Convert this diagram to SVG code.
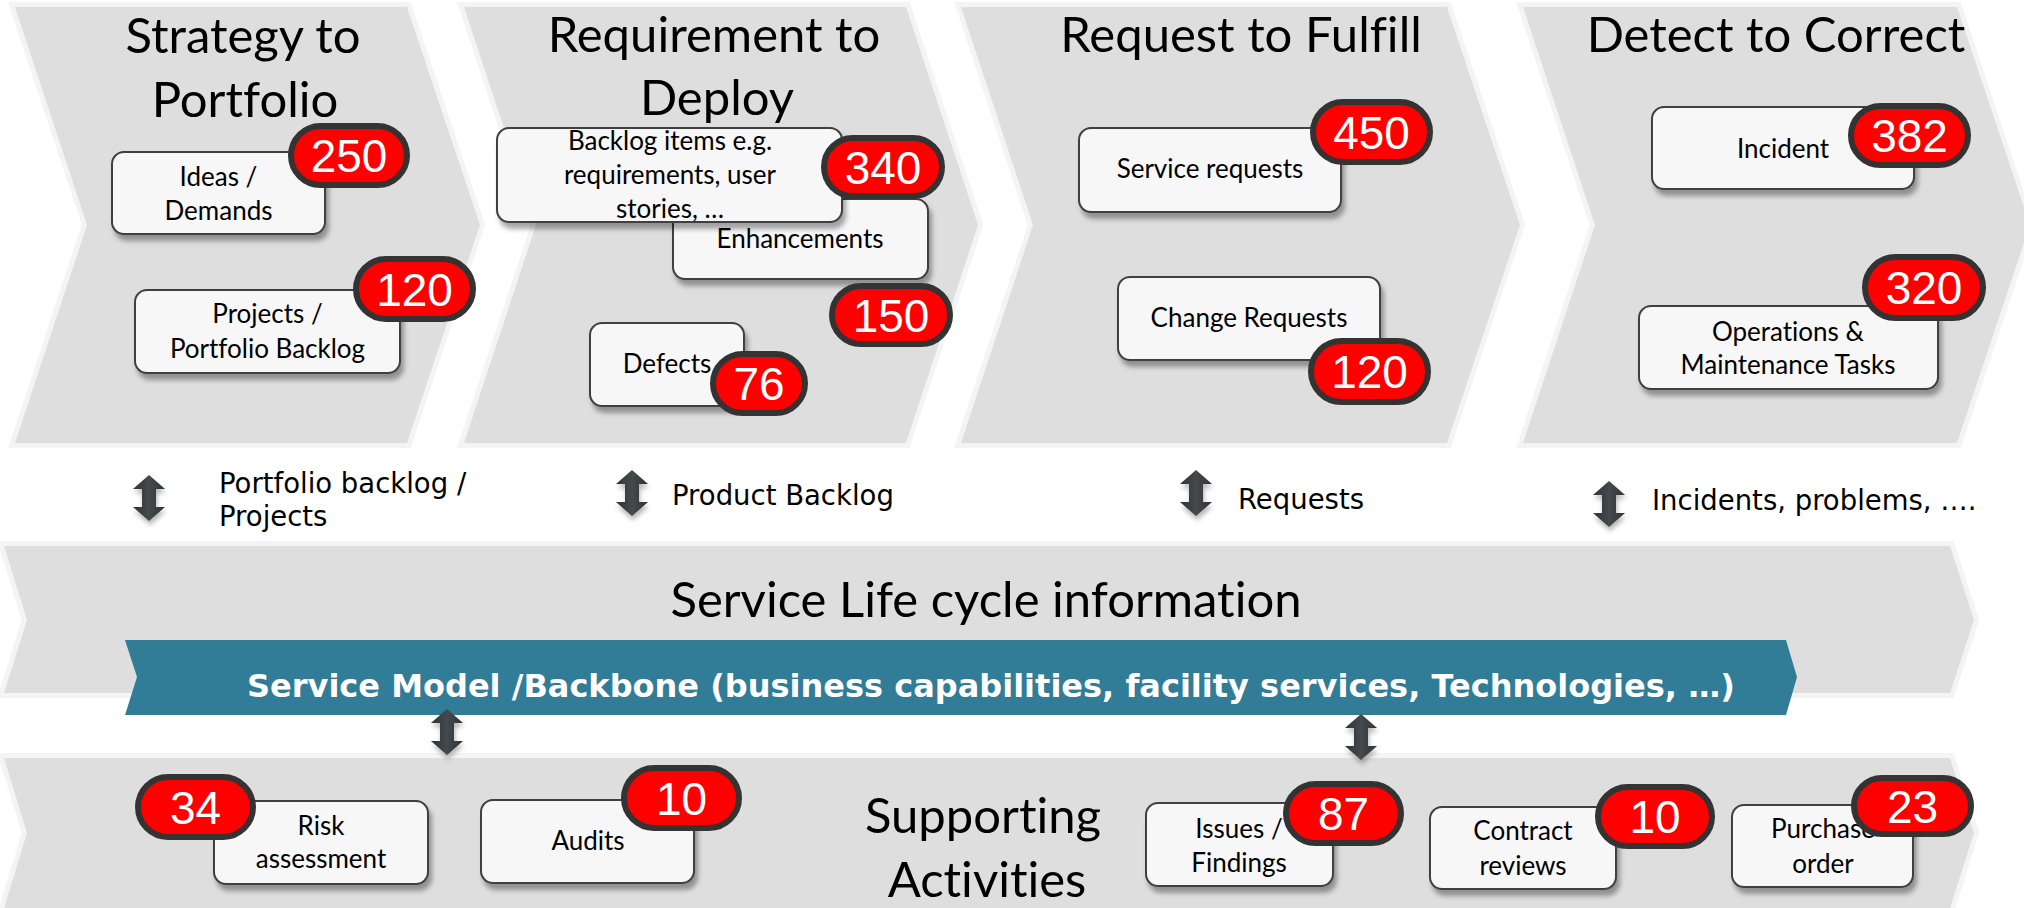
<svg xmlns="http://www.w3.org/2000/svg" width="2024" height="908" viewBox="0 0 2024 908">
<defs>
<style>
.chev{fill:#dedede;stroke:#f4f4f4;stroke-width:10;paint-order:stroke;stroke-linejoin:miter}
.box{fill:#f7f7f7;stroke:#3f3f3f;stroke-width:2;filter:url(#sh)}
.badge{fill:#ff0000;stroke:#333333;stroke-width:6}
.num{font-family:"Liberation Sans",Arial,sans-serif;font-size:46px;fill:#ffffff;text-anchor:middle}
.lbl{font-family:Lato,"Liberation Sans",sans-serif;font-size:26px;fill:#000000;text-anchor:middle;font-variant-ligatures:none;font-feature-settings:"liga" 0}
.title{font-family:Lato,"Liberation Sans",sans-serif;font-size:49px;fill:#000000;text-anchor:middle;font-variant-ligatures:none;font-feature-settings:"liga" 0}
.mid{font-family:"DejaVu Sans",sans-serif;font-size:27.5px;fill:#000000}
.banner{font-family:"DejaVu Sans",sans-serif;font-weight:bold;font-size:32px;fill:#ffffff}
.arr{fill:url(#ag);filter:url(#ash)}
</style>
<filter id="sh" x="-10%" y="-10%" width="130%" height="140%">
<feDropShadow dx="3" dy="6" stdDeviation="2.5" flood-color="#000" flood-opacity="0.35"/>
</filter>
<filter id="ash" x="-50%" y="-30%" width="200%" height="170%">
<feDropShadow dx="1" dy="4" stdDeviation="2.5" flood-color="#000" flood-opacity="0.3"/>
</filter>
<linearGradient id="ag" x1="0" y1="0" x2="1" y2="0">
<stop offset="0" stop-color="#2f3336"/>
<stop offset="0.5" stop-color="#45494c"/>
<stop offset="1" stop-color="#2f3336"/>
</linearGradient>
<path id="darr" d="M0,-23 L16,-9 L7,-9 L7,9 L16,9 L0,23 L-16,9 L-7,9 L-7,-9 L-16,-9 Z"/>
</defs>

<g id="chevrons">
<path class="chev" d="M15,7 L407,7 L480,225 L407,443 L15,443 L87,225 Z"/>
<path class="chev" d="M464,7 L906,7 L978,225 L906,443 L464,443 L536,225 Z"/>
<path class="chev" d="M961,7 L1447,7 L1520,225 L1447,443 L961,443 L1033,225 Z"/>
<path class="chev" d="M1523,7 L1957,7 L2030,225 L1957,443 L1523,443 L1595,225 Z"/>
<path class="chev" d="M4,546 L1950,546 L1974,620 L1950,693 L4,693 L27,620 Z"/>
<path class="chev" d="M4,758 L1950,758 L1974,833 L1950,908 L4,908 L27,833 Z"/>
</g>

<g id="titles">
<text class="title" x="243" y="53">Strategy to</text>
<text class="title" x="245" y="117">Portfolio</text>
<text class="title" x="714" y="52">Requirement to</text>
<text class="title" x="717" y="115">Deploy</text>
<text class="title" x="1241" y="52">Request to Fulfill</text>
<text class="title" x="1776" y="52">Detect to Correct</text>
<text class="title" x="986" y="617">Service Life cycle information</text>
<text class="title" x="983" y="833">Supporting</text>
<text class="title" x="987" y="897">Activities</text>
</g>

<g id="banner">
<path fill="#317c96" d="M125,640 L1786,640 L1797,677 L1786,715 L125,715 L137,677 Z"/>
<text class="banner" x="247" y="697">Service Model /Backbone (business capabilities, facility services, Technologies, …)</text>
</g>

<g id="connectors">
<use href="#darr" class="arr" x="149" y="498"/>
<use href="#darr" class="arr" x="632" y="493"/>
<use href="#darr" class="arr" x="1196" y="493"/>
<use href="#darr" class="arr" x="1609" y="504"/>
<use href="#darr" class="arr" x="447" y="732"/>
<use href="#darr" class="arr" x="1361" y="737"/>
</g>

<g id="flow-labels">
<text class="mid" x="219" y="493">Portfolio backlog /</text>
<text class="mid" x="219" y="526">Projects</text>
<text class="mid" x="672" y="505">Product Backlog</text>
<text class="mid" x="1238" y="509">Requests</text>
<text class="mid" x="1652" y="510">Incidents, problems, ….</text>
</g>

<g id="n-ideas">
<rect class="box" x="112" y="152" width="213" height="82" rx="12"/>
<text class="lbl" x="218.5" y="186">Ideas /</text>
<text class="lbl" x="218.5" y="220">Demands</text>
<rect class="badge" x="291" y="126" width="116" height="59" rx="29.5"/>
<text class="num" x="349" y="172">250</text>
</g>

<g id="n-projects">
<rect class="box" x="135" y="290" width="265" height="83" rx="12"/>
<text class="lbl" x="267.5" y="323">Projects /</text>
<text class="lbl" x="267.5" y="358">Portfolio Backlog</text>
<rect class="badge" x="356" y="259" width="117" height="60" rx="30"/>
<text class="num" x="414.5" y="305.5">120</text>
</g>

<g id="n-enhancements">
<rect class="box" x="673" y="199" width="255" height="80" rx="12"/>
<text class="lbl" x="800" y="248">Enhancements</text>
<rect class="badge" x="832" y="286" width="118" height="58" rx="29"/>
<text class="num" x="891" y="331.5">150</text>
</g>

<g id="n-backlog">
<rect class="box" x="497" y="128" width="345" height="94" rx="12"/>
<text class="lbl" x="670" y="150">Backlog items e.g.</text>
<text class="lbl" x="670" y="184">requirements, user</text>
<text class="lbl" x="670" y="218">stories, …</text>
<rect class="badge" x="824" y="138" width="118" height="58" rx="29"/>
<text class="num" x="883" y="183.5">340</text>
</g>

<g id="n-defects">
<rect class="box" x="590" y="323" width="154" height="83" rx="12"/>
<text class="lbl" x="667" y="373">Defects</text>
<rect class="badge" x="713" y="354" width="92" height="59" rx="29.5"/>
<text class="num" x="759" y="400">76</text>
</g>

<g id="n-service-requests">
<rect class="box" x="1079" y="128" width="262" height="84" rx="12"/>
<text class="lbl" x="1210" y="178">Service requests</text>
<rect class="badge" x="1313" y="102" width="117" height="60" rx="30"/>
<text class="num" x="1371.5" y="148.5">450</text>
</g>

<g id="n-change-requests">
<rect class="box" x="1118" y="277" width="262" height="83" rx="12"/>
<text class="lbl" x="1249" y="327">Change Requests</text>
<rect class="badge" x="1311" y="341" width="117" height="61" rx="30.5"/>
<text class="num" x="1369.5" y="388">120</text>
</g>

<g id="n-incident">
<rect class="box" x="1652" y="107" width="262" height="82" rx="12"/>
<text class="lbl" x="1783" y="158">Incident</text>
<rect class="badge" x="1851" y="106" width="117" height="59" rx="29.5"/>
<text class="num" x="1909.5" y="152">382</text>
</g>

<g id="n-operations">
<rect class="box" x="1639" y="306" width="299" height="83" rx="12"/>
<text class="lbl" x="1788" y="341">Operations &amp;</text>
<text class="lbl" x="1788" y="374">Maintenance Tasks</text>
<rect class="badge" x="1865" y="257" width="118" height="61" rx="30.5"/>
<text class="num" x="1924" y="304">320</text>
</g>

<g id="n-risk">
<rect class="box" x="214" y="801" width="214" height="83" rx="12"/>
<text class="lbl" x="321" y="835">Risk</text>
<text class="lbl" x="321" y="868">assessment</text>
<rect class="badge" x="138" y="777" width="115" height="60" rx="30"/>
<text class="num" x="195.5" y="823.5">34</text>
</g>

<g id="n-audits">
<rect class="box" x="481" y="800" width="213" height="83" rx="12"/>
<text class="lbl" x="588" y="850">Audits</text>
<rect class="badge" x="624" y="768" width="115" height="60" rx="30"/>
<text class="num" x="681.5" y="814.5">10</text>
</g>

<g id="n-issues">
<rect class="box" x="1146" y="803" width="187" height="83" rx="12"/>
<text class="lbl" x="1239" y="838">Issues /</text>
<text class="lbl" x="1239" y="872">Findings</text>
<rect class="badge" x="1286" y="784" width="115" height="59" rx="29.5"/>
<text class="num" x="1343.5" y="830">87</text>
</g>

<g id="n-contract">
<rect class="box" x="1430" y="807" width="186" height="82" rx="12"/>
<text class="lbl" x="1523" y="840">Contract</text>
<text class="lbl" x="1523" y="875">reviews</text>
<rect class="badge" x="1598" y="787" width="114" height="59" rx="29.5"/>
<text class="num" x="1655" y="833">10</text>
</g>

<g id="n-purchase">
<rect class="box" x="1732" y="805" width="181" height="82" rx="12"/>
<text class="lbl" x="1823" y="838">Purchase</text>
<text class="lbl" x="1823" y="873">order</text>
<rect class="badge" x="1854" y="778" width="117" height="56" rx="28"/>
<text class="num" x="1912.5" y="823">23</text>
</g>
</svg>
